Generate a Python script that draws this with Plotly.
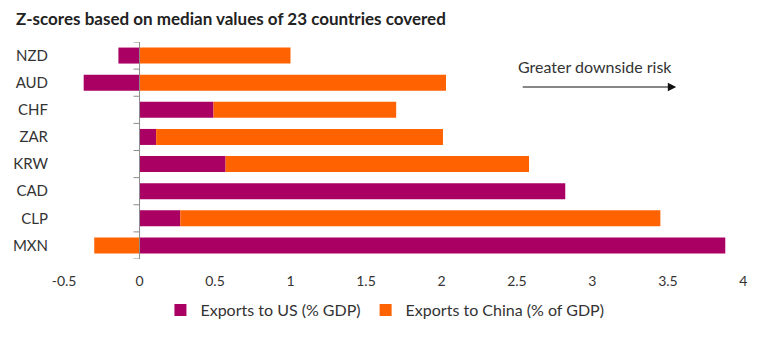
import plotly.graph_objects as go

currencies = ["NZD", "AUD", "CHF", "ZAR", "KRW", "CAD", "CLP", "MXN"]
exports_us = [-0.14, -0.37, 0.49, 0.11, 0.57, 2.82, 0.27, 3.88]
exports_china = [1.00, 2.03, 1.21, 1.90, 2.01, 0.0, 3.18, -0.30]
x_ticks = [-0.5, 0, 0.5, 1, 1.5, 2, 2.5, 3, 3.5, 4]
x_tick_labels = ["-0.5", "0", "0.5", "1", "1.5", "2", "2.5", "3", "3.5", "4"]

PURPLE = "#AA0063"
ORANGE = "#FF6200"
FONT = "Lato"
TXT = "#333333"
AXIS_GREY = "#8c8c8c"

XMIN, XMAX = -0.56, 4.11
n = len(currencies)

fig = go.Figure()
fig.add_trace(go.Bar(y=currencies, x=exports_us, orientation="h",
                     name="Exports to US (% GDP)", marker=dict(color=PURPLE, line_width=0)))
fig.add_trace(go.Bar(y=currencies, x=exports_china, orientation="h",
                     name="Exports to China (% of GDP)", marker=dict(color=ORANGE, line_width=0)))

fig.update_layout(
    width=771, height=341,
    barmode="relative", bargap=0.41,
    margin=dict(l=55, r=11, t=42, b=82),
    paper_bgcolor="white", plot_bgcolor="white",
    font=dict(family=FONT, size=14, color=TXT),
    showlegend=True,
    legend=dict(orientation="h", x=0.468, xanchor="center", y=-0.235, yanchor="middle",
                font=dict(size=16, color=TXT), traceorder="normal"),
    xaxis=dict(range=[XMIN, XMAX], tickvals=x_ticks, ticktext=x_tick_labels,
               showgrid=False, zeroline=False, showline=False, ticks="",
               tickfont=dict(size=14, color=TXT), ticklabelstandoff=12),
    yaxis=dict(range=[n - 0.5, -0.5], categoryorder="array", categoryarray=currencies,
               showgrid=False, zeroline=False, showline=False, ticks="",
               tickfont=dict(size=15, color=TXT), ticklabelstandoff=6),
)

# category axis drawn at x = 0: vertical line + short ticks on the category boundaries
fig.add_shape(type="line", xref="x", yref="paper", x0=0, x1=0, y0=0, y1=1,
              line=dict(color=AXIS_GREY, width=1), layer="above")
for i in range(n + 1):
    fig.add_shape(type="line", xref="x", yref="y", xsizemode="pixel", xanchor=0,
                  x0=-6, x1=0, y0=i - 0.5, y1=i - 0.5,
                  line=dict(color=AXIS_GREY, width=1), layer="above")

fig.add_annotation(text="<b>Z-scores based on median values of 23 countries covered</b>",
                   xref="paper", yref="paper", x=0, y=(259 - 18) / 217,
                   xanchor="left", yanchor="middle", showarrow=False, xshift=-41,
                   font=dict(size=17, color="#222222", family=FONT))
fig.add_annotation(text="Greater downside risk", xref="x", yref="paper",
                   x=3.02, y=(259 - 67) / 217, xanchor="center", yanchor="middle",
                   showarrow=False, font=dict(size=16, color=TXT, family=FONT))
fig.add_annotation(text="", xref="x", yref="paper", x=3.555, y=(259 - 87) / 217,
                   ax=-155, ay=0, showarrow=True, arrowhead=2, arrowsize=1.4,
                   arrowwidth=1.2, arrowcolor="#111111")

fig.write_html("out.html")
